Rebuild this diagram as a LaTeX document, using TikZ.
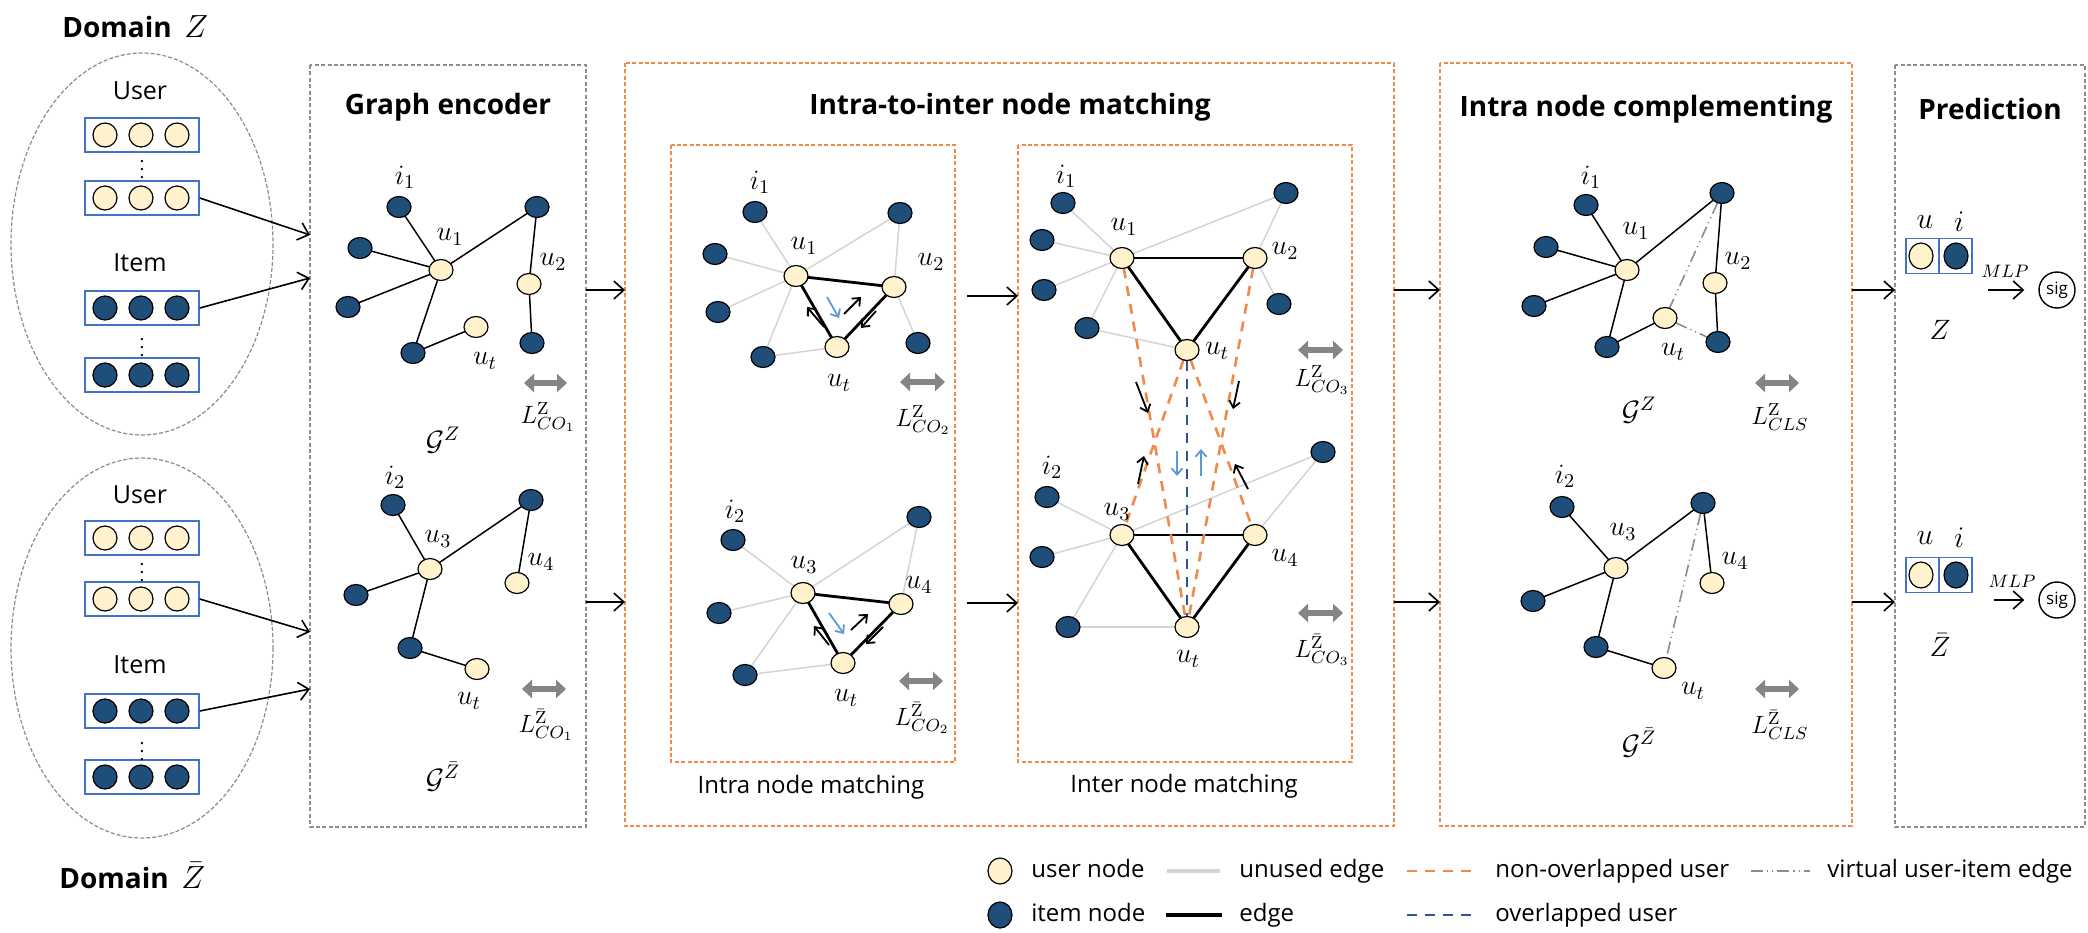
\RequirePackage{fix-cm}
\documentclass[tikz,border=0pt]{standalone}
\usepackage[no-math]{fontspec}
\setmainfont{Open Sans}
\usetikzlibrary{arrows.meta,shapes.geometric}
\definecolor{userfill}{HTML}{FFF2CC}
\definecolor{itemfill}{HTML}{1F4E79}
\definecolor{vecblue}{HTML}{4472C4}
\definecolor{orangeC}{HTML}{F08A4B}
\definecolor{boxgray}{HTML}{8C8C8C}
\definecolor{unusedgray}{HTML}{D4D4D4}
\definecolor{lossgray}{HTML}{858585}
\definecolor{arrblue}{HTML}{5B9BD5}
\definecolor{ovblue}{HTML}{2F5597}
\definecolor{vgray}{HTML}{8C8C8C}
\pgfdeclarelayer{paper}
\pgfdeclarelayer{edges}
\pgfsetlayers{paper,edges,main}
\tikzset{
  usr/.style={ellipse, draw=black, line width=0.6pt, fill=userfill, minimum width=12pt, minimum height=10.5pt, inner sep=0pt, outer sep=0pt},
  itm/.style={usr, fill=itemfill},
  vusr/.style={usr, minimum width=12pt, minimum height=12pt},
  vitm/.style={itm, minimum width=12pt, minimum height=12pt},
  ml/.style={font=\fontsize{14}{16}\selectfont, inner sep=0pt},
  lossl/.style={font=\fontsize{12.5}{14}\selectfont, inner sep=0pt},
  ed/.style={line width=0.75pt, draw=black},
  ued/.style={line width=0.75pt, draw=unusedgray},
  tri/.style={line width=1.4pt, draw=black},
  vedge/.style={line width=0.8pt, draw=vgray, dash pattern=on 6pt off 2pt on 0.6pt off 2pt on 0.6pt off 2pt},
  nov/.style={line width=1.3pt, draw=orangeC, dash pattern=on 5pt off 4pt},
  ovl/.style={line width=1.3pt, draw=ovblue, dash pattern=on 5pt off 4pt},
  loss/.style={line width=3pt, draw=lossgray, {Triangle[length=5pt,width=9pt]}-{Triangle[length=5pt,width=9pt]}},
  arr/.style={line width=0.8pt, -{Straight Barb[length=5pt,width=9pt]}},
  sarr/.style={line width=0.9pt, -{Straight Barb[length=3.2pt,width=5.5pt]}},
  bsarr/.style={sarr, draw=arrblue},
  gbox/.style={draw=boxgray, line width=0.8pt, dash pattern=on 2pt off 1.2pt},
  obox/.style={gbox, draw=orangeC},
  ttl/.style={font=\bfseries\fontsize{14}{16}\selectfont, inner sep=0pt},
  txt/.style={font=\fontsize{12}{14}\selectfont, inner sep=0pt, text height=9pt, text depth=3pt},
  vecbox/.style={draw=vecblue, line width=0.8pt, minimum width=57pt, minimum height=17pt, inner sep=0pt},
  cell/.style={draw=vecblue, line width=0.8pt, minimum width=16.5pt, minimum height=17.5pt, inner sep=0pt},
  dom/.style={draw=boxgray, line width=0.6pt, dash pattern=on 2pt off 1pt},
  dts/.style={font=\fontsize{9}{10}\selectfont, inner sep=0pt},
}
\begin{document}
\begin{tikzpicture}[x=0.5pt,y=-0.5pt]
\useasboundingbox (0,0) rectangle (2088,932);
\begin{pgfonlayer}{paper}
\fill[white] (0,0) rectangle (2088,932);
\end{pgfonlayer}

% ---------- rows used by the stage arrows ----------
\coordinate (rowA) at (0,290);
\coordinate (rowB) at (0,602);

% ---------- domain inputs ----------
\node[ttl, anchor=west] (domA) at (62,27) {Domain\hspace{0.45em}{\fontsize{16}{18}\selectfont$Z$}};
\node[ttl, anchor=west] (domB) at (59,876) {Domain\hspace{0.45em}{\fontsize{16}{18}\selectfont$\bar{Z}$}};
\draw[dom] (142,244) ellipse [x radius=131, y radius=191];
\draw[dom] (142,648) ellipse [x radius=131, y radius=190];

\node[txt, font=\fontsize{12.5}{14}\selectfont] (usrA) at (140,93) {User};
\node[txt, font=\fontsize{12.5}{14}\selectfont] (itmA) at (140,265) {Item};
\node[txt, font=\fontsize{12.5}{14}\selectfont] (usrB) at (140,497) {User};
\node[txt, font=\fontsize{12.5}{14}\selectfont] (itmB) at (140,667) {Item};

\foreach \nm/\yy/\st in {ua1/135/vusr, ua2/198/vusr, ia1/308/vitm, ia2/375/vitm,
                         ub1/538/vusr, ub2/599/vusr, ib1/711/vitm, ib2/777/vitm}{
  \node[vecbox] (\nm) at (142,\yy) {};
  \node[\st] (\nm a) at (105,\yy) {};
  \node[\st] (\nm b) at (141,\yy) {};
  \node[\st] (\nm c) at (177,\yy) {};
}
\foreach \nm/\yy in {dA1/164, dA2/342, dB1/567, dB2/746}
  \node[dts] (\nm) at (142,\yy) {$\vdots$};

% ---------- stage boxes ----------
\draw[gbox] (310,65) rectangle (586,827);
\draw[obox] (625,63) rectangle (1394,826);
\draw[obox] (671,145) rectangle (955,762);
\draw[obox] (1018,145) rectangle (1352,762);
\draw[obox] (1440,63) rectangle (1852,826);
\draw[gbox] (1895,65) rectangle (2085,827);
\coordinate (geW) at (310,0);
\coordinate (geE) at (586,0);
\coordinate (iiW) at (625,0);
\coordinate (iiE) at (1394,0);
\coordinate (ieW) at (1018,0);
\coordinate (icW) at (1440,0);
\coordinate (icE) at (1852,0);
\coordinate (prW) at (1895,0);

\node[ttl] (geT) at (448,107) {Graph encoder};
\node[ttl] (iiT) at (1010,107) {Intra-to-inter node matching};
\node[ttl] (icT) at (1646,109) {Intra node complementing};
\node[ttl] (prT) at (1990,109) {Prediction};
\node[txt] (iaT) at (811,787) {Intra node matching};
\node[txt] (ieT) at (1184,786) {Inter node matching};

% input arrows
\draw[arr] (ua2.east) -- (geW |- 0,235);
\draw[arr] (ia1.east) -- (geW |- 0,278);
\draw[arr] (ub2.east) -- (geW |- 0,632);
\draw[arr] (ib1.east) -- (geW |- 0,689);

% stage arrows
\draw[arr] (geE |- rowA) -- (iiW |- rowA);
\draw[arr] (geE |- rowB) -- (iiW |- rowB);
\coordinate (mA) at (967,296);
\coordinate (mB) at (967,603);
\draw[arr] (mA) -- (ieW |- mA);
\draw[arr] (mB) -- (ieW |- mB);
\draw[arr] (iiE |- rowA) -- (icW |- rowA);
\draw[arr] (iiE |- rowB) -- (icW |- rowB);
\draw[arr] (icE |- rowA) -- (prW |- rowA);
\draw[arr] (icE |- rowB) -- (prW |- rowB);

% ---------- graph encoder ----------
\node[itm] (gti1) at (399,207) {};
\node[itm] (gtiR) at (537,207) {};
\node[itm] (gtiL) at (360,248) {};
\node[itm] (gtiLL) at (348,307) {};
\node[usr] (gtu1) at (441,270) {};
\node[usr] (gtu2) at (529,284) {};
\node[itm] (gtiB) at (413,353) {};
\node[usr] (gtut) at (476,327) {};
\node[itm] (gtiRB) at (532,343) {};
\node[ml] (gti1l) at (405,177) {$i_1$};
\node[ml] (gtu1l) at (450,237) {$u_1$};
\node[ml] (gtu2l) at (553,262) {$u_2$};
\node[ml] (gtutl) at (485,361) {$u_t$};
\begin{pgfonlayer}{edges}
\foreach \a/\b in {gti1/gtu1, gtiL/gtu1, gtiLL/gtu1, gtu1/gtiR, gtiR/gtu2, gtu2/gtiRB, gtu1/gtiB, gtiB/gtut}
  \draw[ed] (\a) -- (\b);
\end{pgfonlayer}
\draw[loss] (524,383) -- (567,383);
\node[lossl] (gtL) at (548,417) {$L^{\mathrm{Z}}_{CO_1}$};
\node[ml] (gtG) at (443,440) {$\mathcal{G}^{Z}$};

\node[itm] (gbi2) at (393,505) {};
\node[itm] (gbiR) at (531,500) {};
\node[usr] (gbu3) at (430,569) {};
\node[usr] (gbu4) at (517,583) {};
\node[itm] (gbiL) at (356,595) {};
\node[itm] (gbiB) at (410,648) {};
\node[usr] (gbut) at (477,669) {};
\node[ml] (gbi2l) at (395,477) {$i_2$};
\node[ml] (gbu3l) at (438,539) {$u_3$};
\node[ml] (gbu4l) at (541,562) {$u_4$};
\node[ml] (gbutl) at (469,701) {$u_t$};
\begin{pgfonlayer}{edges}
\foreach \a/\b in {gbi2/gbu3, gbu3/gbiR, gbiR/gbu4, gbiL/gbu3, gbu3/gbiB, gbiB/gbut}
  \draw[ed] (\a) -- (\b);
\end{pgfonlayer}
\draw[loss] (522,689) -- (566,689);
\node[lossl] (gbL) at (546,725) {$L^{\bar{\mathrm{Z}}}_{CO_1}$};
\node[ml] (gbG) at (443,777) {$\mathcal{G}^{\bar{Z}}$};

% ---------- intra node matching ----------
\node[itm] (ati1) at (755,212) {};
\node[itm] (atiR) at (900,213) {};
\node[itm] (atiL) at (715,254) {};
\node[itm] (atiLL) at (718,312) {};
\node[usr] (atu1) at (796,276) {};
\node[usr] (atu2) at (894,287) {};
\node[itm] (atiB) at (763,357) {};
\node[usr] (atut) at (837,347) {};
\node[itm] (atiRB) at (918,343) {};
\node[ml] (ati1l) at (760,182) {$i_1$};
\node[ml] (atu1l) at (804,246) {$u_1$};
\node[ml] (atu2l) at (931,262) {$u_2$};
\node[ml] (atutl) at (839,383) {$u_t$};
\begin{pgfonlayer}{edges}
\foreach \a/\b in {ati1/atu1, atiL/atu1, atiLL/atu1, atu1/atiR, atiR/atu2, atu2/atiRB, atu1/atiB, atiB/atut}
  \draw[ued] (\a) -- (\b);
\foreach \a/\b in {atu1/atu2, atu2/atut, atut/atu1}
  \draw[tri] (\a) -- (\b);
\end{pgfonlayer}
\draw[sarr] (824,327) -- (807,307);
\draw[bsarr] (827,297) -- (839,318);
\draw[sarr] (844,314) -- (861,297);
\draw[sarr] (876,311) -- (861,328);
\draw[loss] (900,382) -- (945,382);
\node[lossl] (atL) at (923,420) {$L^{\mathrm{Z}}_{CO_2}$};

\node[itm] (abi2) at (733,540) {};
\node[itm] (abiR) at (919,517) {};
\node[itm] (abiL) at (719,613) {};
\node[usr] (abu3) at (803,593) {};
\node[usr] (abu4) at (901,604) {};
\node[itm] (abiB) at (745,675) {};
\node[usr] (abut) at (843,663) {};
\node[ml] (abi2l) at (735,511) {$i_2$};
\node[ml] (abu3l) at (804,565) {$u_3$};
\node[ml] (abu4l) at (919,585) {$u_4$};
\node[ml] (abutl) at (846,698) {$u_t$};
\begin{pgfonlayer}{edges}
\foreach \a/\b in {abi2/abu3, abu3/abiR, abiR/abu4, abiL/abu3, abu3/abiB, abiB/abut}
  \draw[ued] (\a) -- (\b);
\foreach \a/\b in {abu3/abu4, abu4/abut, abut/abu3}
  \draw[tri] (\a) -- (\b);
\end{pgfonlayer}
\draw[sarr] (829,645) -- (814,626);
\draw[bsarr] (829,613) -- (844,634);
\draw[sarr] (851,630) -- (868,614);
\draw[sarr] (883,627) -- (866,644);
\draw[loss] (899,681) -- (943,681);
\node[lossl] (abL) at (922,718) {$L^{\bar{\mathrm{Z}}}_{CO_2}$};

% ---------- inter node matching ----------
\node[itm] (eti1) at (1063,203) {};
\node[itm] (etiR) at (1286,193) {};
\node[itm] (etiL) at (1042,240) {};
\node[itm] (etiLL) at (1044,290) {};
\node[usr] (etu1) at (1122,258) {};
\node[usr] (etu2) at (1255,258) {};
\node[itm] (etiRB) at (1279,304) {};
\node[itm] (etiB) at (1087,328) {};
\node[usr] (etut) at (1187,350) {};
\node[ml] (eti1l) at (1066,176) {$i_1$};
\node[ml] (etu1l) at (1124,227) {$u_1$};
\node[ml] (etu2l) at (1285,251) {$u_2$};
\node[ml] (etutl) at (1217,351) {$u_t$};

\node[itm] (ebi2) at (1047,497) {};
\node[itm] (ebiR) at (1323,452) {};
\node[itm] (ebiL) at (1042,557) {};
\node[usr] (ebu3) at (1122,535) {};
\node[usr] (ebu4) at (1255,535) {};
\node[itm] (ebiB) at (1068,627) {};
\node[usr] (ebut) at (1187,627) {};
\node[ml] (ebi2l) at (1052,467) {$i_2$};
\node[ml] (ebu3l) at (1117,512) {$u_3$};
\node[ml] (ebu4l) at (1285,558) {$u_4$};
\node[ml] (ebutl) at (1188,659) {$u_t$};
\begin{pgfonlayer}{edges}
\foreach \a/\b in {eti1/etu1, etiL/etu1, etiLL/etu1, etu1/etiR, etiR/etu2, etu2/etiRB, etu1/etiB, etiB/etut,
                   ebi2/ebu3, ebu3/ebiR, ebiR/ebu4, ebiL/ebu3, ebu3/ebiB, ebiB/ebut}
  \draw[ued] (\a) -- (\b);
\foreach \a/\b in {etu1/etu2, etu1/etut, etu2/etut, ebu3/ebu4, ebu3/ebut, ebu4/ebut}
  \draw[tri] (\a) -- (\b);
\draw[nov] (etu1) -- (ebut);
\draw[nov] (etu2) -- (ebut);
\draw[nov] (etut) -- (ebu3);
\draw[nov] (etut) -- (ebu4);
\draw[ovl] (etut) -- (ebut);
\end{pgfonlayer}
\draw[sarr] (1136,382) -- (1148,413);
\draw[sarr] (1239,381) -- (1233,409);
\draw[sarr] (1138,484) -- (1144,456);
\draw[sarr] (1248,489) -- (1235,464);
\draw[bsarr] (1177,451) -- (1177,476);
\draw[bsarr] (1201,476) -- (1201,449);
\draw[loss] (1298,350) -- (1343,350);
\node[lossl] (etL) at (1322,380) {$L^{\mathrm{Z}}_{CO_3}$};
\draw[loss] (1298,613) -- (1343,613);
\node[lossl] (ebL) at (1322,650) {$L^{\bar{\mathrm{Z}}}_{CO_3}$};

% ---------- intra node complementing ----------
\node[itm] (cti1) at (1586,205) {};
\node[itm] (ctiR) at (1722,193) {};
\node[itm] (ctiL) at (1546,247) {};
\node[itm] (ctiLL) at (1534,306) {};
\node[usr] (ctu1) at (1627,270) {};
\node[usr] (ctu2) at (1715,283) {};
\node[usr] (ctut) at (1665,318) {};
\node[itm] (ctiB) at (1607,347) {};
\node[itm] (ctiRB) at (1718,342) {};
\node[ml] (cti1l) at (1591,177) {$i_1$};
\node[ml] (ctu1l) at (1636,231) {$u_1$};
\node[ml] (ctu2l) at (1738,261) {$u_2$};
\node[ml] (ctutl) at (1673,352) {$u_t$};
\begin{pgfonlayer}{edges}
\foreach \a/\b in {cti1/ctu1, ctiL/ctu1, ctiLL/ctu1, ctu1/ctiR, ctiR/ctu2, ctu2/ctiRB, ctu1/ctiB, ctiB/ctut}
  \draw[ed] (\a) -- (\b);
\draw[vedge] (ctiR) -- (ctut);
\draw[vedge] (ctut) -- (ctiRB);
\end{pgfonlayer}
\draw[loss] (1755,383) -- (1799,383);
\node[lossl] (ctL) at (1780,417) {$L^{\mathrm{Z}}_{CLS}$};
\node[ml] (ctG) at (1639,410) {$\mathcal{G}^{Z}$};

\node[itm] (cbi2) at (1562,507) {};
\node[itm] (cbiR) at (1703,503) {};
\node[usr] (cbu3) at (1616,568) {};
\node[usr] (cbu4) at (1712,583) {};
\node[itm] (cbiL) at (1533,601) {};
\node[itm] (cbiB) at (1596,647) {};
\node[usr] (cbut) at (1664,668) {};
\node[ml] (cbi2l) at (1565,476) {$i_2$};
\node[ml] (cbu3l) at (1623,532) {$u_3$};
\node[ml] (cbu4l) at (1735,561) {$u_4$};
\node[ml] (cbutl) at (1693,691) {$u_t$};
\begin{pgfonlayer}{edges}
\foreach \a/\b in {cbi2/cbu3, cbu3/cbiR, cbiR/cbu4, cbiL/cbu3, cbu3/cbiB, cbiB/cbut}
  \draw[ed] (\a) -- (\b);
\draw[vedge] (cbiR) -- (cbut);
\end{pgfonlayer}
\draw[loss] (1755,689) -- (1799,689);
\node[lossl] (cbL) at (1780,725) {$L^{\bar{\mathrm{Z}}}_{CLS}$};
\node[ml] (cbG) at (1639,743) {$\mathcal{G}^{\bar{Z}}$};

% ---------- prediction ----------
\foreach \s/\yy/\ly/\zl/\zy in {A/256/222/{$Z$}/330, B/575/538/{$\bar{Z}$}/645}{
  \node[cell] (pu\s) at (1922.5,\yy) {};
  \node[cell] (pi\s) at (1955.5,\yy) {};
  \node[usr, minimum width=12pt, minimum height=13pt] (pu\s c) at (1921,\yy) {};
  \node[itm, minimum width=12pt, minimum height=13pt] (pi\s c) at (1956,\yy) {};
  \node[ml, font=\fontsize{15}{17}\selectfont] (pu\s l) at (1925,\ly) {$u$};
  \node[ml, font=\fontsize{15}{17}\selectfont] (pi\s l) at (1959,\ly) {$i$};
  \node[ml, font=\fontsize{14}{16}\selectfont] (pz\s) at (1940,\zy) {\zl};
}
\node[circle, draw=black, line width=0.7pt, minimum size=18pt, inner sep=0pt, font=\fontsize{8.5}{9}\selectfont] (sigA) at (2057,290) {sig};
\node[circle, draw=black, line width=0.7pt, minimum size=18pt, inner sep=0pt, font=\fontsize{8.5}{9}\selectfont] (sigB) at (2057,600) {sig};
\coordinate (mlpA) at (1988,290);
\coordinate (mlpB) at (1994,600);
\draw[arr, shorten >=7pt] (mlpA) -- (sigA);
\draw[arr, shorten >=7pt] (mlpB) -- (sigB);
\node[ml, font=\fontsize{9}{10}\selectfont] (mlpAl) at (2005,271) {$MLP$};
\node[ml, font=\fontsize{9}{10}\selectfont] (mlpBl) at (2012,581) {$MLP$};

% ---------- legend ----------
\node[usr, minimum width=12pt, minimum height=13pt] (lgU) at (1000,871) {};
\node[txt, anchor=west] (lgUt) at (1031,871) {user node};
\draw[draw=unusedgray, line width=1.6pt] (1167,871) -- (1220,871);
\node[txt, anchor=west] (lgUE) at (1239,871) {unused edge};
\draw[nov] (1407,871) -- (1471,871);
\node[txt, anchor=west] (lgNO) at (1495,871) {non-overlapped user};
\draw[vedge, line width=1.2pt] (1751,871) -- (1810,871);
\node[txt, anchor=west] (lgV) at (1827,871) {virtual user-item edge};
\node[itm, minimum width=12pt, minimum height=13pt] (lgI) at (1000,915) {};
\node[txt, anchor=west] (lgIt) at (1031,915) {item node};
\draw[black, line width=1.6pt] (1166,915) -- (1222,915);
\node[txt, anchor=west] (lgE) at (1239,915) {edge};
\draw[ovl] (1407,915) -- (1471,915);
\node[txt, anchor=west] (lgOV) at (1495,915) {overlapped user};
\end{tikzpicture}
\end{document}
